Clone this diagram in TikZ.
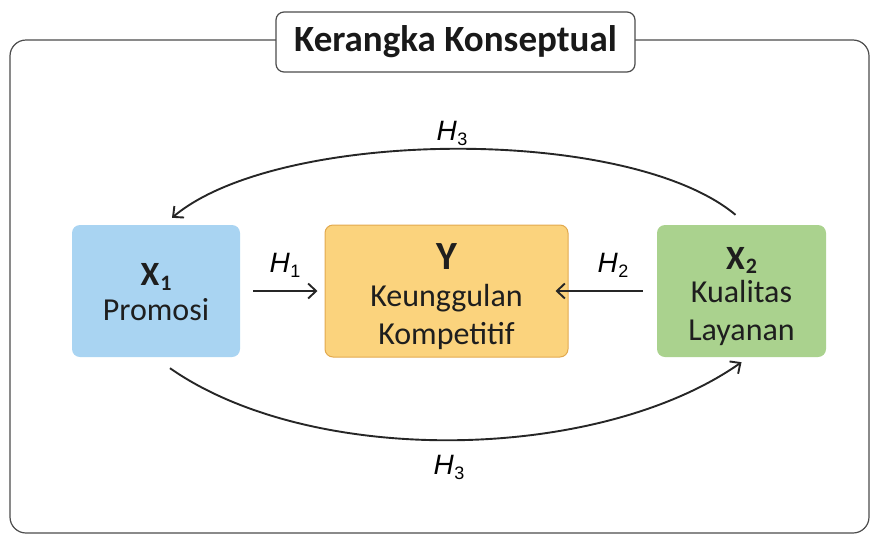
\documentclass[tikz,border=0pt]{standalone}
\usepackage{fontspec}
\setmainfont{Carlito}
\newfontfamily\hfont{Liberation Sans}
\usetikzlibrary{arrows.meta}
\definecolor{promblue}{HTML}{A9D4F2}
\definecolor{ygold}{HTML}{FBD37D}
\definecolor{yedge}{HTML}{E2A94E}
\definecolor{lgreen}{HTML}{AAD28E}
\definecolor{txtgray}{HTML}{1E1E1E}
\newcommand\hlab[1]{{\hfont\fontsize{28}{28}\selectfont\itshape H\kern0.5pt\upshape\raisebox{-5pt}{\fontsize{18}{18}\selectfont #1}}}
\tikzset{
  varbox/.style = {rounded corners = 8pt, minimum height = 132pt, inner sep = 0pt},
  vartext/.style = {align = center, text = txtgray, font = \fontsize{32}{38}\selectfont, inner sep = 0pt},
  arr/.style = {-{Straight Barb[length=8pt,width=15pt]}, line width = 1.9pt, color = black!85}
}
\begin{document}
\begin{tikzpicture}[x=1pt,y=-1pt]
\useasboundingbox (0,0) rectangle (872,536);
% outer frame and title
\draw[color = black!70, line width = 1.2pt, rounded corners = 16pt] (276,40) -- (10,40) -- (10,533) -- (869,533) -- (869,40) -- (635,40);
\node[draw = black!70, line width = 1.2pt, fill = white, rounded corners = 8pt, minimum width = 359pt, minimum height = 60pt, font = \fontsize{37}{37}\selectfont\bfseries, text = black!90] (title) at (455.5,42) {Kerangka Konseptual};
% variables
\node[varbox, fill = promblue, minimum width = 168pt] (x1) at (156,291) {};
\node[varbox, fill = ygold, draw = yedge, line width = 1pt, minimum width = 243pt] (ky) at (446.5,291) {};
\node[varbox, fill = lgreen, minimum width = 169pt] (x2) at (741.5,291) {};
\node[vartext] (x1txt) at ([yshift=-1pt]x1.center) {{\bfseries\fontsize{34}{34}\selectfont X\kern1pt\raisebox{-5pt}{\fontsize{22}{22}\selectfont 1}}\\[-3pt]Promosi};
\node[vartext] (kytxt) at ([yshift=-6pt]ky.center) {{\bfseries\fontsize{40}{40}\selectfont Y}\\[-1pt]Keunggulan\\Kompetitif};
\node[vartext] (x2txt) at ([yshift=-6pt]x2.center) {{\bfseries\fontsize{34}{34}\selectfont X\kern1pt\raisebox{-4pt}{\fontsize{22}{22}\selectfont 2}}\\[-5pt]Kualitas\\Layanan};
% hypotheses
\draw[arr] ([xshift=13pt]x1.east) -- ([xshift=-7pt]ky.west);
\node (h1) at (285,265) {\hlab{1}};
\draw[arr] ([xshift=-14pt]x2.west) -- ([xshift=-13pt]x2.west -| ky.east) coordinate (h2end);
\node (h2) at (613,265) {\hlab{2}};
\coordinate (topstart) at ([shift={(-6,-10)}]x2.north);
\coordinate (topend) at ([shift={(16,-7)}]x1.north);
\draw[arr] (topstart) .. controls (628,125) and (279,128) .. (topend);
\node (h3top) at (452,133) {\hlab{3}};
\coordinate (botstart) at ([shift={(14,11)}]x1.south);
\coordinate (botend) at ([shift={(0,5)}]x2.south);
\draw[arr] (botstart) .. controls (313,468) and (599,462) .. (botend);
\node (h3bot) at (449,467) {\hlab{3}};
\end{tikzpicture}
\end{document}
